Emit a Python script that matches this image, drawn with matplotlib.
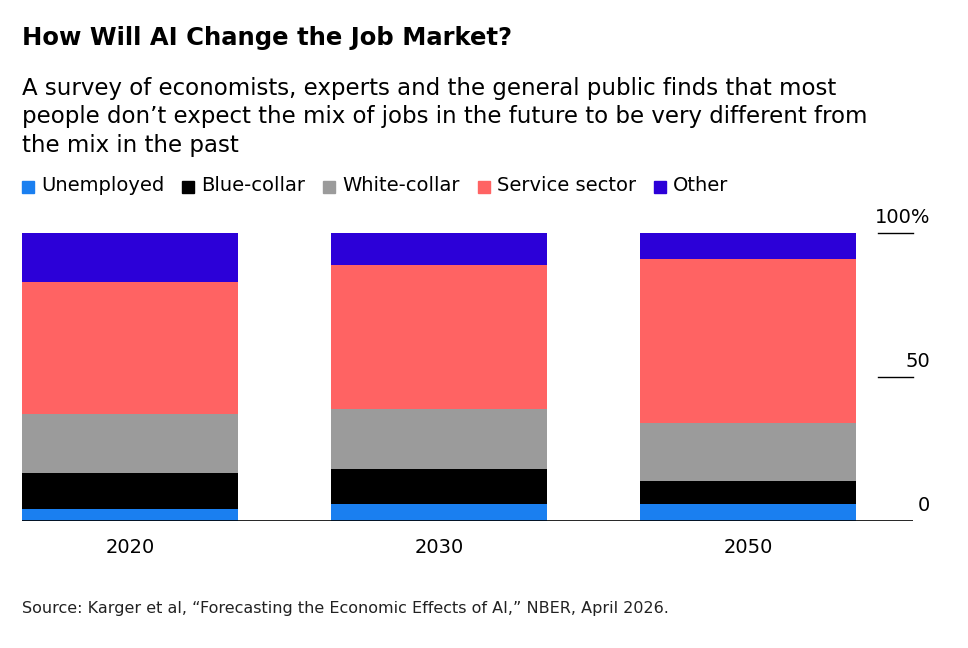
import matplotlib.pyplot as plt
from matplotlib.patches import Rectangle

years = ['2020', '2030', '2050']
series = ['Unemployed', 'Blue-collar', 'White-collar', 'Service sector', 'Other']
colors = ['#1a7ff0', '#000000', '#9b9b9b', '#ff6363', '#2c00d8']
unemployed = [4, 6, 6]
blue_collar = [12.5, 12, 8]
white_collar = [20.5, 21, 20]
service = [46, 50, 57]
other = [17, 11, 9]
values = [unemployed, blue_collar, white_collar, service, other]

fig = plt.figure(figsize=(9.68, 6.48), dpi=100)
ax = fig.add_axes([22/968, 1-521/648, (913-22)/968, (521-233)/648])

bottom = [0, 0, 0]
for vals, c in zip(values, colors):
    ax.bar(range(3), vals, bottom=bottom, width=0.7, color=c)
    bottom = [b + v for b, v in zip(bottom, vals)]

ax.set_xlim(-0.35, 2.534)
ax.set_ylim(0, 100)
for s in ax.spines.values():
    s.set_visible(False)
ax.axhline(0, color='black', lw=1.2)
ax.set_yticks([])
ax.set_xticks(range(3))
ax.set_xticklabels(years, fontsize=14)
ax.tick_params(axis='x', length=0, pad=12)

for y, lab in [(100, '100%'), (50, '50'), (0, '')]:
    if y > 0:
        ax.plot([2.42, 2.534], [y, y], color='black', lw=1, clip_on=False)
    ax.text(2.59, y + 2, lab, ha='right', va='bottom', fontsize=14)
ax.text(2.59, 2, '0', ha='right', va='bottom', fontsize=14)

fig.text(22/968, 1-38/648, 'How Will AI Change the Job Market?', fontsize=17.5, fontweight='bold', va='center')
fig.text(22/968, 1-77/648, 'A survey of economists, experts and the general public finds that most\n'
         'people don\u2019t expect the mix of jobs in the future to be very different from\n'
         'the mix in the past', fontsize=16.5, va='top', linespacing=1.3)

x = 22
for s, c in zip(series, colors):
    fig.patches.append(Rectangle((x/968, 1-193/648), 12/968, 12/648, color=c, transform=fig.transFigure))
    t = fig.text((x+19)/968, 1-186/648, s, fontsize=14, va='center')
    fig.canvas.draw()
    w = t.get_window_extent().width
    x = x + 19 + w + 18

fig.text(22/968, 1-608/648, 'Source: Karger et al, \u201cForecasting the Economic Effects of AI,\u201d NBER, April 2026.',
         fontsize=11.5, va='center', color='#222222')

fig.savefig('out.png', dpi=100)
